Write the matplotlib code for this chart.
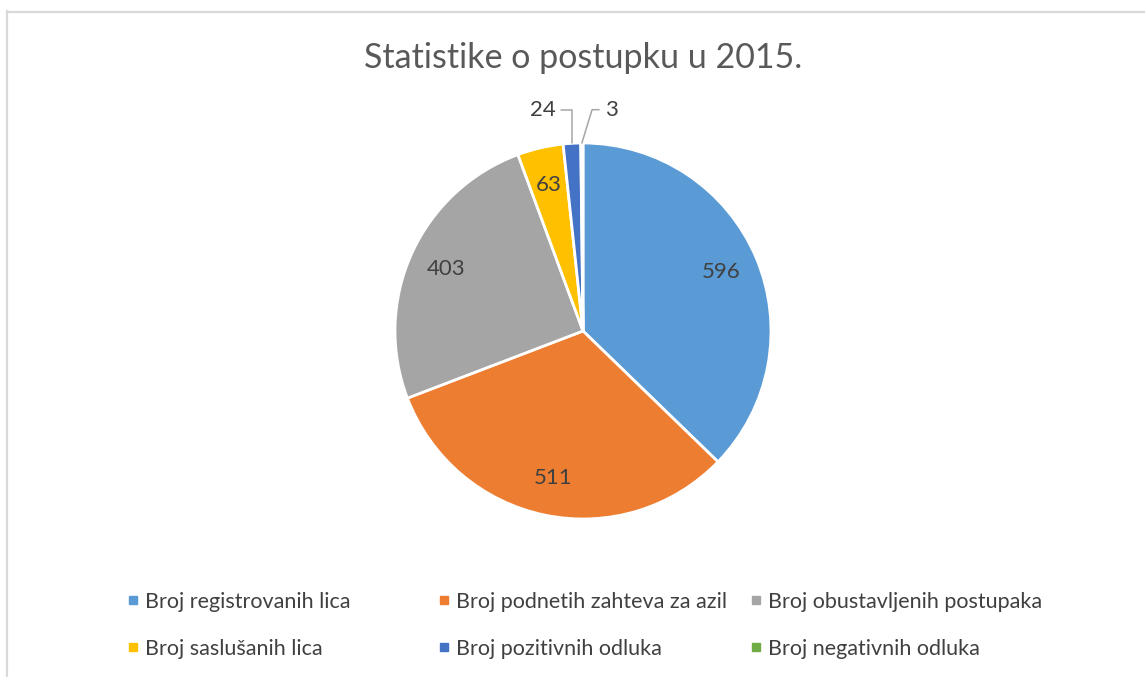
"""Pie chart: Statistike o postupku u 2015."""
import numpy as np
import matplotlib
matplotlib.use("Agg")
import matplotlib.pyplot as plt
from matplotlib.lines import Line2D

plt.rcParams["font.family"] = ["Lato", "DejaVu Sans"]

TITLE = "Statistike o postupku u 2015."
categories = ["Broj registrovanih lica", "Broj podnetih zahteva za azil",
              "Broj obustavljenih postupaka", "Broj saslušanih lica",
              "Broj pozitivnih odluka", "Broj negativnih odluka"]
values = [596, 511, 403, 63, 24, 3]
colors = ["#5B9BD5", "#ED7D31", "#A5A5A5", "#FFC000", "#4472C4", "#70AD47"]
# slices too thin for an inside label get an outside callout
outside = {4: (-21, 24, 90), 5: (21, 24, 73)}   # (dx pt, dy pt, leader angle)

W, H = 1145, 677
fig = plt.figure(figsize=(W / 100, H / 100), dpi=100)

# chart frame (top and left edges visible)
fig.add_artist(Line2D([6.5 / W, 6.5 / W], [0, 1 - 11 / H], color="#D9D9D9", lw=1.6))
fig.add_artist(Line2D([6.5 / W, 1], [1 - 11.5 / H, 1 - 11.5 / H], color="#D9D9D9", lw=1.6))

cx, cy, r = 583, 331, 188
ax = fig.add_axes([(cx - r) / W, (H - cy - r) / H, 2 * r / W, 2 * r / H])
wedges, _ = ax.pie(values, colors=colors, startangle=90, counterclock=False,
                   wedgeprops=dict(edgecolor="white", linewidth=2))
ax.set_xlim(-1, 1); ax.set_ylim(-1, 1); ax.set_aspect("equal")
ax.axis("off")

for i, w in enumerate(wedges):
    mid = np.deg2rad((w.theta1 + w.theta2) / 2)
    if i in outside:
        dx, dy, angB = outside[i]
        ax.annotate(str(values[i]), xy=(np.cos(mid), np.sin(mid)), xytext=(dx, dy),
                    textcoords="offset points", ha="center", va="center",
                    fontsize=16, color="#404040",
                    arrowprops=dict(arrowstyle="-", color="#A6A6A6", lw=1.1,
                                    shrinkA=2, shrinkB=0,
                                    connectionstyle=f"angle,angleA=0,angleB={angB},rad=0"))
    else:
        rr = 0.8
        ax.text(rr * np.cos(mid), rr * np.sin(mid), str(values[i]), ha="center",
                va="center", fontsize=16, color="#404040")

fig.text(cx / W, 1 - 58 / H, TITLE, ha="center", va="center", fontsize=24.5, color="#595959")

# legend: three columns, two rows, Excel-like equal column spacing
col_x = [127, 438, 750]
for c in range(3):
    handles = [Line2D([], [], marker="s", ls="none", ms=6, color=colors[k],
                      label=categories[k]) for k in (c, c + 3)]
    fig.legend(handles=handles, loc="upper left", bbox_to_anchor=(col_x[c] / W, 1 - 592 / H),
               frameon=False, fontsize=15.5, handlelength=0.6, handletextpad=0.25,
               labelspacing=1.25, borderpad=0, borderaxespad=0, labelcolor="#404040")

fig.savefig("out.png", dpi=100, facecolor="white")
